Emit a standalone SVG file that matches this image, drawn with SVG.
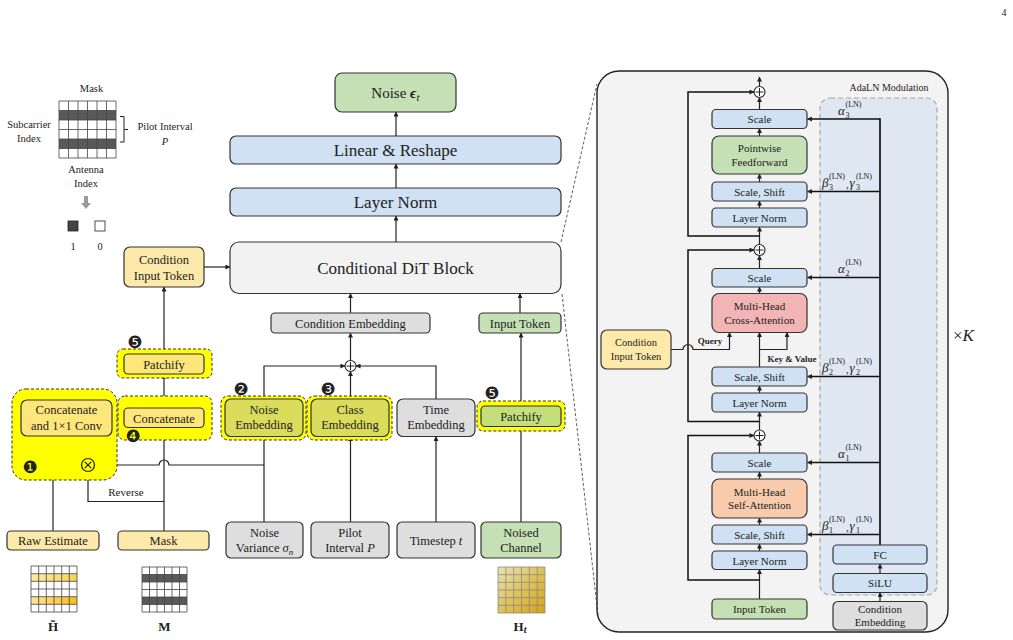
<svg xmlns="http://www.w3.org/2000/svg" width="1013" height="640" viewBox="0 0 1013 640">
<defs>
<marker id="ah" viewBox="0 0 6 6" refX="5.5" refY="3" markerWidth="5" markerHeight="5" orient="auto" markerUnits="userSpaceOnUse"><path d="M0,0 L6,3 L0,6 z" fill="#222"/></marker>
<linearGradient id="gHt" x1="0" y1="0" x2="1" y2="1"><stop offset="0" stop-color="#e9e1b8"/><stop offset="0.5" stop-color="#dfc25e"/><stop offset="1" stop-color="#d4a21a"/></linearGradient>
<linearGradient id="gR1" x1="0" y1="0" x2="1" y2="0"><stop offset="0" stop-color="#fdeaa8"/><stop offset="1" stop-color="#fbd254"/></linearGradient>
<linearGradient id="gR2" x1="0" y1="0" x2="1" y2="0"><stop offset="0" stop-color="#fde4a0"/><stop offset="1" stop-color="#fbbd14"/></linearGradient>
</defs>
<style>
text{font-family:"Liberation Serif","Times New Roman",serif;fill:#222;}
.c{text-anchor:middle;}
.b{stroke:#333;stroke-width:1.2;}
.yel{fill:#fde9a9;}
.blu{fill:#cfe1f2;}
.grn{fill:#c5e0b4;}
.gry{fill:#dedede;}
.hl{fill:#ffff00;stroke:#333;stroke-width:1;stroke-dasharray:3 2;}
.ln{fill:none;stroke:#222;stroke-width:1.2;}
.lna{fill:none;stroke:#222;stroke-width:1.2;marker-end:url(#ah);}
.thk{fill:none;stroke:#111;stroke-width:1.7;}
.thka{fill:none;stroke:#111;stroke-width:1.5;marker-end:url(#ah);}
.n{font-family:"DejaVu Sans",sans-serif;font-size:17px;}
.gl{fill:none;stroke:#444;stroke-width:0.8;}
.t12{font-size:12.5px;}
.t10{font-size:10.5px;}
.t11{font-size:11px;}
.mv{font-size:13px;font-style:italic;}
.sub{font-size:8px;}
</style>

<text x="1004" y="16" style="font-size:10px" class="c">4</text>

<g id="mask-legend">
<text x="91.5" y="92" class="c t10">Mask</text>
<rect x="59" y="110.5" width="57" height="9.5" fill="#595959"/>
<rect x="59" y="139" width="57" height="9.5" fill="#595959"/>
<path class="gl" d="M59,101h57v57h-57z M68.5,101v57 M78,101v57 M87.5,101v57 M97,101v57 M106.5,101v57 M59,110.5h57 M59,120h57 M59,129.5h57 M59,139h57 M59,148.5h57"/>
<text x="29" y="128" class="c t10">Subcarrier</text>
<text x="29" y="142" class="c t10">Index</text>
<path d="M120,116.5 H124 V142 H120 M124,129.5 H128" fill="none" stroke="#222" stroke-width="1"/>
<text x="165" y="130" class="c t10">Pilot Interval</text>
<text x="165" y="145" class="c t10" font-style="italic">P</text>
<text x="86" y="173" class="c t10">Antenna</text>
<text x="86" y="187" class="c t10">Index</text>
<path d="M84,196 h4 v7 h3 l-5,6 l-5,-6 h3 z" fill="#9a9a9a"/>
<rect x="68" y="221" width="10" height="10" fill="#444" stroke="#222" stroke-width="0.8"/>
<rect x="95" y="221" width="10" height="10" fill="#fff" stroke="#222" stroke-width="0.8"/>
<text x="73" y="250" class="c t10">1</text>
<text x="100" y="250" class="c t10">0</text>
</g>

<g id="dit-panel">
<rect x="597" y="71" width="351" height="561" rx="22" fill="#f3f3f3" stroke="#222" stroke-width="1.4"/>
</g>
<g id="adaln">
<rect x="820" y="98" width="117" height="497" rx="10" fill="#dfe7f2" stroke="#aaa" stroke-width="1.2" stroke-dasharray="5 3"/>
<text x="889" y="91" class="c" style="font-size:10px">AdaLN Modulation</text>
</g>

<g id="connectors">
<path class="lna" d="M204,267 H230"/>
<path class="lna" d="M164,354 V287"/>
<path class="lna" d="M164,408 V374"/>
<path class="lna" d="M112,418 H124"/>
<path class="lna" d="M164,531 V427.5"/>
<path class="lna" d="M164,501.5 H88 V472"/>
<path class="lna" d="M88,459 V436"/>
<path class="lna" d="M53,531 V436"/>
<path class="ln" d="M94.5,465 H159 A5,5 0 0 1 169,465 H264"/>
<path class="lna" d="M396,136 V112"/>
<path class="lna" d="M396,188 V164"/>
<path class="lna" d="M396,242 V216"/>
<path class="lna" d="M350.5,313 V293.5"/>
<path class="lna" d="M520,313 V293.5"/>
<path class="lna" d="M350.5,360.5 V333"/>
<path class="lna" d="M264,522 V366 H345"/>
<path class="lna" d="M436,399 V366 H356"/>
<path class="lna" d="M350.5,399 V371.5"/>
<path class="lna" d="M350.5,522 V436.5"/>
<path class="lna" d="M436,522 V436.5"/>
<path class="lna" d="M521,522 V426.5"/>
<path class="lna" d="M521,406 V333"/>
<path d="M561,242 L597,84 M562,294 L598,615" fill="none" stroke="#333" stroke-width="0.8" stroke-dasharray="3 2"/>
<path class="lna" d="M759.5,86.5 V77"/>
<path class="lna" d="M759.5,109.5 V97.5"/>
<path class="lna" d="M759.5,136 V128.5"/>
<path class="lna" d="M759.5,182 V174"/>
<path class="lna" d="M759.5,208 V201"/>
<path class="lna" d="M759.5,244.5 V227"/>
<path class="lna" d="M759.5,268.5 V255.5"/>
<path class="lna" d="M759.5,293.5 V287"/>
<path class="lna" d="M759.5,367 V332.5"/>
<path class="lna" d="M759.5,349.5 H787 V332.5"/>
<path class="lna" d="M759.5,393 V386"/>
<path class="lna" d="M759.5,430 V412"/>
<path class="lna" d="M759.5,453 V441"/>
<path class="lna" d="M759.5,479 V472"/>
<path class="lna" d="M759.5,525 V518"/>
<path class="lna" d="M759.5,551 V544"/>
<path class="lna" d="M759.5,599 V569.5"/>
<path class="thka" d="M759.5,580 H688 V435.5 H754"/>
<path class="thka" d="M759.5,421.5 H688 V250 H754"/>
<path class="thka" d="M759.5,236 H688 V92 H754"/>
<path class="lna" d="M671,349.5 H683 A5,5 0 0 1 693,349.5 H729.5 V332.5"/>
<path class="lna" d="M880,573.5 V564"/>
<path class="lna" d="M880,601.5 V592.5"/>
<path class="thk" d="M880,545 V118.3"/>
<path class="thka" d="M880,119 H807.5"/>
<path class="thka" d="M880,191.5 H807.5"/>
<path class="thka" d="M880,277.5 H807.5"/>
<path class="thka" d="M880,376.5 H807.5"/>
<path class="thka" d="M880,462.5 H807.5"/>
<path class="thka" d="M880,534.5 H807.5"/>
</g>

<g id="cond-input-token-left"><rect x="124" y="247" width="80" height="40" rx="6" class="b yel"/><text x="164" y="264" class="c t12">Condition</text><text x="164" y="280" class="c t12">Input Token</text></g>
<g id="patchify-left"><rect x="117" y="349" width="95" height="29" rx="6" class="hl"/><rect x="124" y="354" width="80" height="20" rx="4" class="b" fill="#fee77a"/><text x="164" y="368.5" class="c t12">Patchify</text><text x="135" y="347.5" class="c n">❺</text></g>
<g id="concatenate"><rect x="118" y="396" width="94" height="44" rx="7" class="hl"/><rect x="124" y="408" width="80" height="19.5" rx="4" class="b" fill="#fee77a"/><text x="164" y="422.5" class="c t12">Concatenate</text><text x="133" y="441.5" class="c n">❹</text></g>
<g id="concat-conv"><rect x="12" y="389" width="105" height="91" rx="14" class="hl"/><rect x="21" y="400" width="91" height="36" rx="6" class="b" fill="#fee77a"/><text x="66.5" y="414" class="c t12">Concatenate</text><text x="66.5" y="430" class="c t12">and 1×1 Conv</text><text x="30" y="473" class="c n">❶</text>
<circle cx="88" cy="465" r="6.5" fill="#ffff00" stroke="#222" stroke-width="1.2"/><path d="M84.8,461.8 L91.2,468.2 M91.2,461.8 L84.8,468.2" stroke="#222" stroke-width="1.2"/></g>
<text x="126" y="496" class="c t11">Reverse</text>
<g id="raw-estimate"><rect x="7" y="531" width="92" height="19" rx="4" class="b yel"/><text x="53" y="545" class="c t12">Raw Estimate</text></g>
<g id="mask-node"><rect x="118" y="531" width="91" height="19" rx="4" class="b yel"/><text x="163.5" y="545" class="c t12">Mask</text></g>
<g id="h-tilde">
<rect x="31" y="573.7" width="46" height="7.7" fill="url(#gR1)"/>
<rect x="31" y="596.7" width="46" height="7.7" fill="url(#gR2)"/>
<path class="gl" d="M31,566h46v46h-46z M38.7,566v46 M46.3,566v46 M54,566v46 M61.7,566v46 M69.3,566v46 M31,573.7h46 M31,581.3h46 M31,589h46 M31,596.7h46 M31,604.3h46"/>
<text x="53" y="631" class="c" style="font-size:13px;font-weight:bold">H̃</text>
</g>
<g id="m-grid">
<rect x="142" y="574.5" width="45" height="7.5" fill="#595959"/>
<rect x="142" y="597" width="45" height="7.5" fill="#595959"/>
<path class="gl" d="M142,567h45v45h-45z M149.5,567v45 M157,567v45 M164.5,567v45 M172,567v45 M179.5,567v45 M142,574.5h45 M142,582h45 M142,589.5h45 M142,597h45 M142,604.5h45"/>
<text x="164.5" y="631" class="c" style="font-size:13px;font-weight:bold">M</text>
</g>

<g id="noise-eps"><rect x="335" y="73" width="121" height="39" rx="7" class="b grn"/><text x="395.5" y="97.5" class="c" style="font-size:15px">Noise <tspan font-weight="bold" font-style="italic">ϵ</tspan><tspan font-style="italic" font-size="11px" dy="3">t</tspan></text></g>
<g id="linear-reshape"><rect x="230" y="136" width="331" height="28" rx="6" class="b blu"/><text x="395.5" y="156" class="c" style="font-size:17px">Linear &amp; Reshape</text></g>
<g id="layer-norm-main"><rect x="230" y="188" width="331" height="28" rx="6" class="b blu"/><text x="395.5" y="208" class="c" style="font-size:17px">Layer Norm</text></g>
<g id="dit-block"><rect x="230" y="242" width="331" height="51.5" rx="9" class="b" fill="#f2f2f2"/><text x="395.5" y="274" class="c" style="font-size:17px">Conditional DiT Block</text></g>
<g id="cond-embedding"><rect x="271" y="313" width="159" height="20" rx="4" class="b gry"/><text x="350.5" y="327.5" class="c t12">Condition Embedding</text></g>
<g id="input-token-mid"><rect x="479" y="313" width="82" height="20" rx="4" class="b grn"/><text x="520" y="327.5" class="c t12">Input Token</text></g>
<g id="sum-mid"><circle cx="350.5" cy="366" r="5.5" fill="#fff" stroke="#222" stroke-width="1.1"/><path d="M346.5,366 H354.5 M350.5,362 V370" stroke="#222" stroke-width="1"/></g>
<g id="noise-embedding"><rect x="221" y="396" width="85" height="44" rx="7" class="hl"/><rect x="225" y="399" width="78" height="37.5" rx="6" class="b" fill="#dcdc5c"/><text x="264" y="414" class="c t12">Noise</text><text x="264" y="429" class="c t12">Embedding</text><text x="241" y="394.5" class="c n">❷</text></g>
<g id="class-embedding"><rect x="307" y="396" width="85" height="44" rx="7" class="hl"/><rect x="311" y="399" width="78" height="37.5" rx="6" class="b" fill="#dcdc5c"/><text x="350" y="414" class="c t12">Class</text><text x="350" y="429" class="c t12">Embedding</text><text x="328" y="394.5" class="c n">❸</text></g>
<g id="time-embedding"><rect x="397" y="399" width="78" height="37.5" rx="6" class="b gry"/><text x="436" y="414" class="c t12">Time</text><text x="436" y="429" class="c t12">Embedding</text></g>
<g id="patchify-mid"><rect x="477" y="401" width="88" height="30" rx="6" class="hl"/><rect x="481" y="406" width="80" height="20.5" rx="4" class="b" fill="#c4df7a"/><text x="521" y="420.5" class="c t12">Patchify</text><text x="492" y="398.5" class="c n">❺</text></g>
<g id="noise-variance"><rect x="226" y="522" width="77" height="36" rx="5" class="b gry"/><text x="264.5" y="537" class="c t12">Noise</text><text x="264.5" y="552" class="c t12">Variance <tspan font-style="italic">σ</tspan><tspan font-style="italic" font-size="9px" dy="2.5">n</tspan></text></g>
<g id="pilot-interval"><rect x="311" y="522" width="78" height="36" rx="5" class="b gry"/><text x="350" y="537" class="c t12">Pilot</text><text x="350" y="552" class="c t12">Interval <tspan font-style="italic">P</tspan></text></g>
<g id="timestep"><rect x="397" y="522" width="78" height="36" rx="5" class="b gry"/><text x="436" y="544.5" class="c t12">Timestep <tspan font-style="italic">t</tspan></text></g>
<g id="noised-channel"><rect x="481" y="522" width="80" height="36" rx="5" class="b grn"/><text x="521" y="537" class="c t12">Noised</text><text x="521" y="552" class="c t12">Channel</text></g>
<g id="ht-grid">
<rect x="498" y="567" width="47" height="46" fill="url(#gHt)"/>
<path d="M498,567h47v46h-47z M505.8,567v46 M513.7,567v46 M521.5,567v46 M529.3,567v46 M537.2,567v46 M498,574.7h47 M498,582.3h47 M498,590h47 M498,597.7h47 M498,605.3h47" fill="none" stroke="#8a8a7a" stroke-width="0.8"/>
<text x="520" y="631" class="c" style="font-size:13px;font-weight:bold">H<tspan font-style="italic" font-size="10px" dy="2">t</tspan></text>
</g>

<g id="sum3"><circle cx="759.5" cy="92" r="5.5" fill="#fff" stroke="#222" stroke-width="1.1"/><path d="M755.5,92 H763.5 M759.5,88 V96" stroke="#222" stroke-width="1"/></g>
<g id="sum2"><circle cx="759.5" cy="250" r="5.5" fill="#fff" stroke="#222" stroke-width="1.1"/><path d="M755.5,250 H763.5 M759.5,246 V254" stroke="#222" stroke-width="1"/></g>
<g id="sum1"><circle cx="759.5" cy="435.5" r="5.5" fill="#fff" stroke="#222" stroke-width="1.1"/><path d="M755.5,435.5 H763.5 M759.5,431.5 V439.5" stroke="#222" stroke-width="1"/></g>
<g id="scale3"><rect x="712" y="109.5" width="95" height="19" rx="4" class="b blu"/><text x="759.5" y="123" class="c t11">Scale</text></g>
<g id="pff"><rect x="712" y="136" width="95" height="38" rx="7" class="b grn"/><text x="759.5" y="152" class="c t11">Pointwise</text><text x="759.5" y="165.5" class="c t11">Feedforward</text></g>
<g id="scaleshift3"><rect x="712" y="182" width="95" height="19" rx="4" class="b blu"/><text x="759.5" y="195.5" class="c t11">Scale, Shift</text></g>
<g id="ln3"><rect x="712" y="208" width="95" height="19" rx="4" class="b blu"/><text x="759.5" y="221.5" class="c t11">Layer Norm</text></g>
<g id="scale2"><rect x="712" y="268.5" width="95" height="18.5" rx="4" class="b blu"/><text x="759.5" y="282" class="c t11">Scale</text></g>
<g id="mhca"><rect x="712" y="293.5" width="95" height="39" rx="7" class="b" fill="#f2b4b4"/><text x="759.5" y="310" class="c t11">Multi-Head</text><text x="759.5" y="324" class="c t11">Cross-Attention</text></g>
<g id="scaleshift2"><rect x="712" y="367" width="95" height="19" rx="4" class="b blu"/><text x="759.5" y="380.5" class="c t11">Scale, Shift</text></g>
<g id="ln2"><rect x="712" y="393" width="95" height="19" rx="4" class="b blu"/><text x="759.5" y="406.5" class="c t11">Layer Norm</text></g>
<g id="scale1"><rect x="712" y="453" width="95" height="19" rx="4" class="b blu"/><text x="759.5" y="466.5" class="c t11">Scale</text></g>
<g id="mhsa"><rect x="712" y="479" width="95" height="39" rx="7" class="b" fill="#f8cbad"/><text x="759.5" y="495.5" class="c t11">Multi-Head</text><text x="759.5" y="509" class="c t11">Self-Attention</text></g>
<g id="scaleshift1"><rect x="712" y="525" width="95" height="19" rx="4" class="b blu"/><text x="759.5" y="538.5" class="c t11">Scale, Shift</text></g>
<g id="ln1"><rect x="712" y="551" width="95" height="18.5" rx="4" class="b blu"/><text x="759.5" y="564.5" class="c t11">Layer Norm</text></g>
<g id="input-token-right"><rect x="712" y="599" width="95" height="20" rx="4" class="b grn"/><text x="759.5" y="613" class="c t11">Input Token</text></g>
<g id="cond-input-token-right"><rect x="601" y="330" width="70" height="39" rx="6" class="b yel"/><text x="636" y="346" class="c" style="font-size:10.5px">Condition</text><text x="636" y="359.5" class="c" style="font-size:10.5px">Input Token</text></g>
<text x="710" y="344" class="c" style="font-size:9px;font-weight:bold">Query</text>
<text x="792" y="362" class="c" style="font-size:9px;font-weight:bold">Key &amp; Value</text>
<g id="fc"><rect x="833" y="545" width="94" height="19" rx="4" class="b blu"/><text x="880" y="558.5" class="c t11">FC</text></g>
<g id="silu"><rect x="833" y="573.5" width="94" height="19" rx="4" class="b blu"/><text x="880" y="587" class="c t11">SiLU</text></g>
<g id="cond-embedding-right"><rect x="833" y="601.5" width="94" height="28.5" rx="5" class="b gry"/><text x="880" y="613" class="c t11">Condition</text><text x="880" y="626" class="c t11">Embedding</text></g>

<g id="labels-mod">
<text x="838" y="115" class="mv">α</text><text x="845.5" y="118" class="sub">3</text><text x="845.5" y="107" class="sub">(LN)</text>
<text x="838" y="273" class="mv">α</text><text x="845.5" y="276" class="sub">2</text><text x="845.5" y="265" class="sub">(LN)</text>
<text x="838" y="458" class="mv">α</text><text x="845.5" y="461" class="sub">1</text><text x="845.5" y="450" class="sub">(LN)</text>
<text x="822" y="187" class="mv">β</text><text x="829" y="190" class="sub">3</text><text x="829" y="179" class="sub">(LN)</text><text x="846" y="188" class="t11">,</text><text x="849.5" y="187" class="mv">γ</text><text x="856" y="190" class="sub">3</text><text x="856" y="179" class="sub">(LN)</text>
<text x="822" y="372" class="mv">β</text><text x="829" y="375" class="sub">2</text><text x="829" y="364" class="sub">(LN)</text><text x="846" y="373" class="t11">,</text><text x="849.5" y="372" class="mv">γ</text><text x="856" y="375" class="sub">2</text><text x="856" y="364" class="sub">(LN)</text>
<text x="822" y="530" class="mv">β</text><text x="829" y="533" class="sub">1</text><text x="829" y="522" class="sub">(LN)</text><text x="846" y="531" class="t11">,</text><text x="849.5" y="530" class="mv">γ</text><text x="856" y="533" class="sub">1</text><text x="856" y="522" class="sub">(LN)</text>
</g>
<text x="953" y="341" style="font-size:17px">×<tspan font-style="italic">K</tspan></text>
</svg>
